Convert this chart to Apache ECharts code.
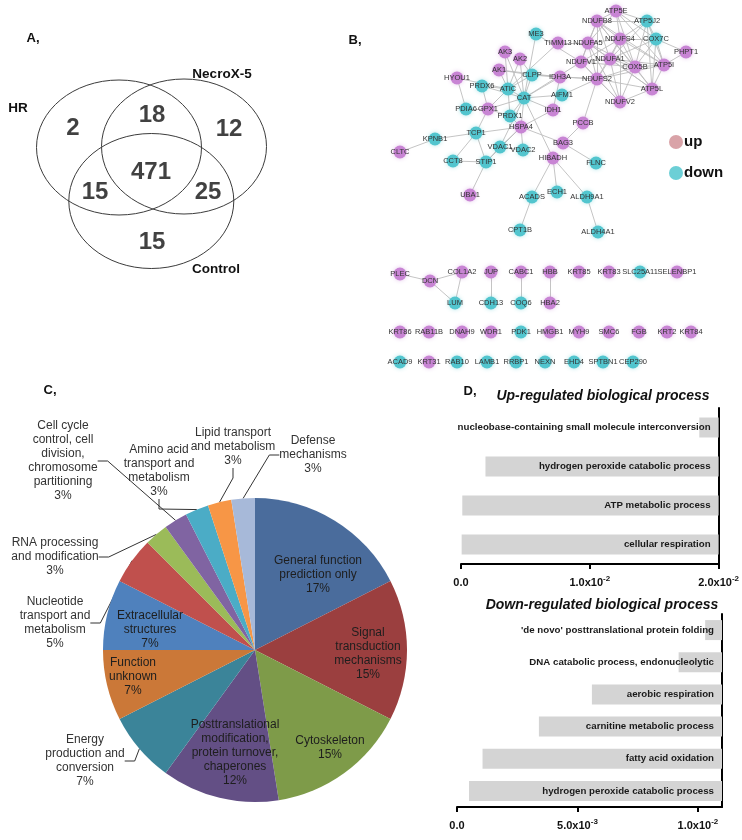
<!DOCTYPE html>
<html><head><meta charset="utf-8">
<script src="https://cdn.jsdelivr.net/npm/echarts@6/dist/echarts.min.js"></script>
<style>html,body{margin:0;padding:0;background:#fff}#c{width:742px;height:840px}</style>
</head><body><div id="c"></div>
<script>
// ---------------- DATA ----------------
// Venn (A)
const vennSets = ['HR', 'NecroX-5', 'Control'];
// regions: HR only, HR∩NecroX, NecroX only, all three, HR∩Control, NecroX∩Control, Control only
const vennCounts = [2, 18, 12, 471, 15, 25, 15];

// Network (B)
const netGenes = ['ME3','TIMM13','NDUFA5','NDUFB8','ATP5E','ATP5J2','NDUFS4','COX7C','PHPT1','NDUFV1','NDUFA1','COX5B','ATP5I','NDUFS2','ATP5L','NDUFV2','IDH3A','AIFM1','IDH1','PCCB','AK3','AK2','AK1','CLPP','HYOU1','PRDX6','ATIC','CAT','PDIA6','GPX1','PRDX1','HSPA4','TCP1','KPNB1','CLTC','VDAC1','VDAC2','BAG3','HIBADH','FLNC','CCT8','STIP1','UBA1','ACADS','ECH1','ALDH9A1','CPT1B','ALDH4A1',
  'PLEC','DCN','COL1A2','JUP','CABC1','HBB','KRT85','KRT83','SLC25A11','SELENBP1','LUM','CDH13','COQ6','HBA2',
  'KRT86','RAB11B','DNAH9','WDR1','PDK1','HMGB1','MYH9','SMC6','FGB','KRT2','KRT84',
  'ACAD9','KRT31','RAB10','LAMB1','RRBP1','NEXN','EHD4','SPTBN1','CEP290'];
const netRegulation = ['down','up','up','up','up','down','up','down','up','up','up','up','up','up','up','up','up','down','up','up','up','up','up','down','up','down','down','down','down','up','down','up','down','down','up','down','down','up','up','down','down','down','up','down','down','down','down','down',
  'up','up','up','up','up','up','up','up','down','up','down','down','down','up',
  'up','up','up','up','down','up','up','up','up','up','up',
  'down','up','down','down','down','down','down','down','down'];
const netLinks = [
  ['CLTC','KPNB1'],['KPNB1','TCP1'],['TCP1','HSPA4'],['TCP1','CCT8'],['TCP1','STIP1'],['CCT8','STIP1'],['STIP1','UBA1'],['STIP1','HSPA4'],['TCP1','GPX1'],
  ['GPX1','PRDX6'],['HYOU1','PDIA6'],['HYOU1','ATIC'],['PRDX6','ATIC'],['PRDX6','CAT'],['PDIA6','GPX1'],['GPX1','CAT'],['GPX1','PRDX1'],['GPX1','ATIC'],
  ['PRDX1','CAT'],['PRDX1','HSPA4'],['PRDX1','ATIC'],['ATIC','CAT'],['AK1','ATIC'],['AK2','ATIC'],['AK3','ATIC'],['AK3','CAT'],['AK2','CAT'],['AK1','CLPP'],
  ['AK1','IDH3A'],['AK2','CLPP'],['ME3','CAT'],['ME3','NDUFV1'],['TIMM13','ATIC'],['CLPP','CAT'],['CLPP','ATIC'],['CLPP','IDH3A'],['CLPP','NDUFS2'],
  ['CAT','IDH3A'],['CAT','AIFM1'],['CAT','IDH1'],['CAT','NDUFV1'],['CAT','HSPA4'],['CAT','VDAC1'],['CAT','HIBADH'],['HSPA4','BAG3'],['HSPA4','VDAC1'],
  ['HSPA4','VDAC2'],['HSPA4','IDH1'],['VDAC1','VDAC2'],['VDAC1','STIP1'],['IDH3A','NDUFS2'],['IDH3A','IDH1'],['AIFM1','NDUFS2'],['PCCB','NDUFS2'],['PCCB','BAG3'],
  ['BAG3','FLNC'],['HIBADH','ACADS'],['HIBADH','ECH1'],['HIBADH','ALDH9A1'],['ACADS','CPT1B'],['ALDH9A1','ALDH4A1'],['TIMM13','NDUFA5'],
  ['NDUFB8','ATP5E'],['NDUFB8','ATP5J2'],['NDUFB8','NDUFA5'],['NDUFB8','NDUFS4'],['NDUFB8','NDUFV1'],['NDUFB8','NDUFA1'],['NDUFB8','COX5B'],['NDUFB8','NDUFS2'],['NDUFB8','ATP5I'],['NDUFB8','ATP5L'],
  ['ATP5E','ATP5J2'],['ATP5E','NDUFS4'],['ATP5E','COX7C'],['ATP5E','ATP5I'],['ATP5E','COX5B'],['ATP5E','NDUFA5'],
  ['ATP5J2','COX7C'],['ATP5J2','ATP5I'],['ATP5J2','NDUFS4'],['ATP5J2','COX5B'],['ATP5J2','ATP5L'],['ATP5J2','NDUFA1'],
  ['NDUFA5','NDUFS4'],['NDUFA5','NDUFV1'],['NDUFA5','NDUFA1'],['NDUFA5','NDUFS2'],['NDUFA5','COX5B'],['NDUFA5','NDUFV2'],['NDUFA5','ATP5L'],
  ['NDUFS4','COX7C'],['NDUFS4','NDUFA1'],['NDUFS4','NDUFV1'],['NDUFS4','NDUFS2'],['NDUFS4','COX5B'],['NDUFS4','ATP5I'],['NDUFS4','NDUFV2'],
  ['COX7C','COX5B'],['COX7C','ATP5I'],['COX7C','ATP5L'],['COX7C','PHPT1'],['COX7C','NDUFA1'],
  ['NDUFV1','NDUFA1'],['NDUFV1','NDUFS2'],['NDUFV1','NDUFV2'],['NDUFV1','COX5B'],
  ['NDUFA1','NDUFS2'],['NDUFA1','COX5B'],['NDUFA1','NDUFV2'],['NDUFA1','ATP5L'],['NDUFA1','ATP5I'],
  ['COX5B','ATP5I'],['COX5B','ATP5L'],['COX5B','NDUFV2'],['COX5B','NDUFS2'],
  ['ATP5I','ATP5L'],['ATP5I','PHPT1'],['ATP5I','NDUFS2'],['NDUFS2','NDUFV2'],['NDUFS2','ATP5L'],['ATP5L','NDUFV2'],
  ['PLEC','DCN'],['DCN','COL1A2'],['DCN','LUM'],['COL1A2','LUM'],['JUP','CDH13'],['CABC1','COQ6'],['HBB','HBA2']
];

// Pie (C)
const pieCategories = ['General function\nprediction only','Signal\ntransduction\nmechanisms','Cytoskeleton','Posttranslational\nmodification,\nprotein turnover,\nchaperones','Energy\nproduction and\nconversion','Function\nunknown','Extracellular\nstructures','Nucleotide\ntransport and\nmetabolism','RNA processing\nand modification','Cell cycle\ncontrol, cell\ndivision,\nchromosome\npartitioning','Amino acid\ntransport and\nmetabolism','Lipid transport\nand metabolism','Defense\nmechanisms'];
const pieCounts = [7, 6, 6, 5, 3, 3, 3, 2, 1, 1, 1, 1, 1];
const piePercentLabels = ['17%','15%','15%','12%','7%','7%','7%','5%','3%','3%','3%','3%','3%'];

// Bars (D)
const upProcesses = ['nucleobase-containing small molecule interconversion','hydrogen peroxide catabolic process','ATP metabolic process','cellular respiration'];
const upPValues = [0.0185, 0.0019, 0.0001, 0.00005];
const upAxisMax = 0.02;
const upTickInterval = 0.01;
const downProcesses = ["'de novo' posttranslational protein folding",'DNA catabolic process, endonucleolytic','aerobic respiration','carnitine metabolic process','fatty acid oxidation','hydrogen peroxide catabolic process'];
const downPValues = [0.0103, 0.0092, 0.0056, 0.0034, 0.00106, 0.0005];
const downAxisMax = 0.011;
const downTickInterval = 0.005;

// ---------------- LAYOUT / STYLE ----------------
const FONT = "'Liberation Sans', Arial, sans-serif";
const UP = '#c884d4', DOWN = '#52c5ce';
const vennCircleLayout = [[119, 147.5], [184, 146.5], [151.3, 201]];
const vennRadius = [82.5, 67.5];
const vennNumberLayout = [[73,128],[152,115],[229,129],[151,172],[95,192],[208,192],[152,242]];
const netLayout = {
  ME3:[536,34],TIMM13:[558,43],NDUFA5:[588,43],NDUFB8:[597,21],ATP5E:[616,11],ATP5J2:[647,21],NDUFS4:[620,39],COX7C:[656,39],PHPT1:[686,52],
  NDUFV1:[581,62],NDUFA1:[610,59],COX5B:[635,67],ATP5I:[664,65],NDUFS2:[597,79],ATP5L:[652,89],NDUFV2:[620,102],IDH3A:[560,77],AIFM1:[562,95],
  IDH1:[553,110],PCCB:[583,123],AK3:[505,52],AK2:[520,59],AK1:[499,70],CLPP:[532,75],HYOU1:[457,78],PRDX6:[482,86],ATIC:[508,89],CAT:[524,98],
  PDIA6:[466,109],GPX1:[488,109],PRDX1:[510,116],HSPA4:[521,127],TCP1:[476,133],KPNB1:[435,139],CLTC:[400,152],VDAC1:[500,147],VDAC2:[523,150],
  BAG3:[563,143],HIBADH:[553,158],FLNC:[596,163],CCT8:[453,161],STIP1:[486,162],UBA1:[470,195],ACADS:[532,197],ECH1:[557,192],ALDH9A1:[587,197],
  CPT1B:[520,230],ALDH4A1:[598,232],
  PLEC:[400,274],DCN:[430,281],COL1A2:[462,272],JUP:[491,272],CABC1:[521,272],HBB:[550,272],KRT85:[579,272],KRT83:[609,272],SLC25A11:[640,272],SELENBP1:[677,272],
  LUM:[455,303],CDH13:[491,303],COQ6:[521,303],HBA2:[550,303],
  KRT86:[400,332],RAB11B:[429,332],DNAH9:[462,332],WDR1:[491,332],PDK1:[521,332],HMGB1:[550,332],MYH9:[579,332],SMC6:[609,332],FGB:[639,332],KRT2:[667,332],KRT84:[691,332],
  ACAD9:[400,362],KRT31:[429,362],RAB10:[457,362],LAMB1:[487,362],RRBP1:[516,362],NEXN:[545,362],EHD4:[574,362],SPTBN1:[603,362],CEP290:[633,362]
};
const pieColors = ['#4a6c9c','#9b3f3f','#7e9b49','#634f85','#3b8499','#cb7838','#4f81bd','#c0504d','#9bbb59','#8064a2','#4bacc6','#f79646','#a7b9d9'];
const pieLabelLayout = [[318,575],[368,654],[330,748],[235,753],[85,761],[133,677],[150,630],[55,623],[55,557],[63,461],[159,471],[233,447],[313,455]];
const pieOutside = [false,false,false,false,true,false,false,true,true,true,true,true,true];

function sci(v) {
  if (Math.abs(v) < 1e-12) return '0.0';
  const e = Math.floor(Math.log10(v) + 1e-9);
  const m = v / Math.pow(10, e);
  return m.toFixed(1) + 'x10{s|' + e + '}';
}

const chart = echarts.init(document.getElementById('c'), null, {renderer: 'canvas'});

const hiddenAxis = (min, max, inverse) => ({type: 'value', show: false, min, max, inverse: !!inverse, splitLine: {show: false}});
const valueAxis = (gridIndex, max, interval) => ({
  type: 'value', gridIndex, min: 0, max, interval, position: 'bottom',
  axisLine: {show: true, onZero: false, lineStyle: {color: '#000', width: 2}},
  axisTick: {show: true, length: 5, lineStyle: {color: '#000', width: 2}},
  splitLine: {show: false},
  axisLabel: {
    show: true, margin: 11, fontFamily: FONT, fontWeight: 'bold', fontSize: 11, color: '#111', lineHeight: 16,
    showMaxLabel: max === interval * Math.round(max / interval),
    formatter: sci,
    rich: {s: {fontFamily: FONT, fontWeight: 'bold', fontSize: 8, lineHeight: 9, verticalAlign: 'top', color: '#111'}}
  }
});
const catAxis = (gridIndex, data) => ({
  type: 'category', gridIndex, data, inverse: true, position: 'right',
  axisLine: {show: true, onZero: false, lineStyle: {color: '#000', width: 2}},
  axisTick: {show: false}, axisLabel: {show: false}, splitLine: {show: false}
});

const barLabel = (names) => ({
  show: true, position: 'insideRight', distance: 8,
  formatter: p => names[p.dataIndex],
  fontFamily: FONT, fontWeight: 'bold', fontSize: 9.7, color: '#1a1a1a'
});

const option = {
  animation: false,
  backgroundColor: '#fff',
  grid: [
    {left: 0, top: 0, width: 370, height: 300},
    {left: 370, top: 0, width: 372, height: 380},
    {left: 461, top: 408, width: 262, height: 156},
    {left: 457, top: 614, width: 265, height: 193}
  ],
  xAxis: [
    Object.assign(hiddenAxis(0, 370), {gridIndex: 0}),
    Object.assign(hiddenAxis(370, 742), {gridIndex: 1}),
    valueAxis(2, upAxisMax, upTickInterval),
    valueAxis(3, downAxisMax, downTickInterval)
  ],
  yAxis: [
    Object.assign(hiddenAxis(0, 300, true), {gridIndex: 0}),
    Object.assign(hiddenAxis(0, 380, true), {gridIndex: 1}),
    catAxis(2, upProcesses),
    catAxis(3, downProcesses)
  ],
  series: [
    {
      type: 'custom', xAxisIndex: 0, yAxisIndex: 0, silent: true,
      data: vennSets.map((s, i) => [vennCircleLayout[i][0], vennCircleLayout[i][1], vennRadius[0], vennRadius[1]]),
      renderItem: (params, api) => {
        const c = api.coord([api.value(0), api.value(1)]);
        const s = api.size([api.value(2), api.value(3)]);
        return {type: 'ellipse', shape: {cx: c[0], cy: c[1], rx: Math.abs(s[0]), ry: Math.abs(s[1])},
          style: {fill: 'none', stroke: '#3c3c3c', lineWidth: 1}};
      }
    },
    {
      type: 'scatter', xAxisIndex: 0, yAxisIndex: 0, silent: true, symbolSize: 1,
      itemStyle: {color: 'rgba(0,0,0,0)'},
      data: vennCounts.map((v, i) => [vennNumberLayout[i][0], vennNumberLayout[i][1], v]),
      label: {show: true, position: 'inside', formatter: p => String(p.value[2]),
        fontFamily: FONT, fontWeight: 'bold', fontSize: 24, color: '#111'}
    },
    {
      type: 'graph', coordinateSystem: 'cartesian2d', xAxisIndex: 1, yAxisIndex: 1, silent: true,
      symbol: 'circle', symbolSize: 13,
      data: netGenes.map((g, i) => ({name: g, value: netLayout[g],
        itemStyle: {color: netRegulation[i] === 'up' ? UP : DOWN,
          shadowBlur: 4, shadowColor: netRegulation[i] === 'up' ? 'rgba(200,132,212,0.45)' : 'rgba(82,197,206,0.45)'}})),
      links: netLinks.map(([s, t]) => ({source: s, target: t})),
      lineStyle: {color: '#bdbdbd', width: 0.9, opacity: 1, curveness: 0},
      label: {show: true, position: 'inside', fontFamily: FONT, fontSize: 7.5, color: '#333'},
      emphasis: {disabled: true}
    },
    {
      type: 'pie', center: [255, 650], radius: 152, startAngle: 90, clockwise: true, silent: true,
      avoidLabelOverlap: false,
      data: pieCategories.map((c, i) => ({
        name: c, value: pieCounts[i], itemStyle: {color: pieColors[i]},
        label: {position: pieOutside[i] ? 'outside' : 'inside', color: pieOutside[i] ? '#333' : '#1e1e1e'},
        labelLine: {show: pieOutside[i]}
      })),
      label: {show: true, formatter: p => pieCategories[p.dataIndex] + '\n' + piePercentLabels[p.dataIndex],
        fontFamily: FONT, fontSize: 12, lineHeight: 14, align: 'center'},
      labelLine: {lineStyle: {color: '#333', width: 1}, length: 10, length2: 10},
      labelLayout: p => ({x: pieLabelLayout[p.dataIndex][0], y: pieLabelLayout[p.dataIndex][1], align: 'center', verticalAlign: 'middle'})
    },
    {type: 'bar', xAxisIndex: 2, yAxisIndex: 2, stack: 'up', silent: true, barWidth: 20,
      data: upPValues, itemStyle: {color: 'rgba(0,0,0,0)'}},
    {type: 'bar', xAxisIndex: 2, yAxisIndex: 2, stack: 'up', silent: true, barWidth: 20,
      data: upPValues.map(p => upAxisMax - p), itemStyle: {color: '#d4d4d4'}, label: barLabel(upProcesses)},
    {type: 'bar', xAxisIndex: 3, yAxisIndex: 3, stack: 'down', silent: true, barWidth: 20,
      data: downPValues, itemStyle: {color: 'rgba(0,0,0,0)'}},
    {type: 'bar', xAxisIndex: 3, yAxisIndex: 3, stack: 'down', silent: true, barWidth: 20,
      data: downPValues.map(p => downAxisMax - p), itemStyle: {color: '#d4d4d4'}, label: barLabel(downProcesses)}
  ],
  graphic: [
    {type: 'text', x: 33, y: 38, style: {text: 'A,', font: 'bold 13px ' + FONT, fill: '#111', align: 'center', verticalAlign: 'middle'}},
    {type: 'text', x: 355, y: 40, style: {text: 'B,', font: 'bold 13px ' + FONT, fill: '#111', align: 'center', verticalAlign: 'middle'}},
    {type: 'text', x: 50, y: 390, style: {text: 'C,', font: 'bold 13px ' + FONT, fill: '#111', align: 'center', verticalAlign: 'middle'}},
    {type: 'text', x: 470, y: 391, style: {text: 'D,', font: 'bold 13px ' + FONT, fill: '#111', align: 'center', verticalAlign: 'middle'}},
    {type: 'text', x: 18, y: 108, style: {text: vennSets[0], font: 'bold 13.5px ' + FONT, fill: '#111', align: 'center', verticalAlign: 'middle'}},
    {type: 'text', x: 222, y: 74, style: {text: vennSets[1], font: 'bold 13.5px ' + FONT, fill: '#111', align: 'center', verticalAlign: 'middle'}},
    {type: 'text', x: 216, y: 269, style: {text: vennSets[2], font: 'bold 13.5px ' + FONT, fill: '#111', align: 'center', verticalAlign: 'middle'}},
    {type: 'circle', shape: {cx: 676, cy: 142, r: 7}, style: {fill: '#d9a3a8'}},
    {type: 'circle', shape: {cx: 676, cy: 173, r: 7}, style: {fill: '#6ccfd6'}},
    {type: 'text', x: 684, y: 142, style: {text: 'up', font: 'bold 15px ' + FONT, fill: '#111', align: 'left', verticalAlign: 'middle'}},
    {type: 'text', x: 684, y: 173, style: {text: 'down', font: 'bold 15px ' + FONT, fill: '#111', align: 'left', verticalAlign: 'middle'}},
    {type: 'text', x: 603, y: 396, style: {text: 'Up-regulated biological process', font: 'italic bold 14px ' + FONT, fill: '#111', align: 'center', verticalAlign: 'middle'}},
    {type: 'text', x: 602, y: 605, style: {text: 'Down-regulated biological process', font: 'italic bold 14px ' + FONT, fill: '#111', align: 'center', verticalAlign: 'middle'}}
  ]
};
chart.setOption(option);
</script>
</body></html>
